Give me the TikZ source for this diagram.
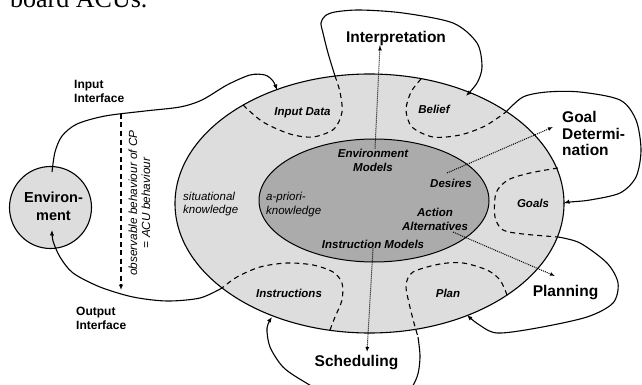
\documentclass[tikz,border=0pt]{standalone}
\usepackage{fontspec}
\setmainfont{Liberation Sans}
\newfontfamily\tnr{Liberation Serif}
\usetikzlibrary{shapes.geometric,arrows.meta}
\definecolor{ringgray}{RGB}{221,221,221}
\definecolor{coregray}{RGB}{171,171,171}
\begin{document}
\begin{tikzpicture}[x=1pt,y=-1pt,
  big/.style={font=\bfseries\fontsize{15.5}{16.5}\selectfont, align=left, inner sep=0pt},
  envtext/.style={font=\bfseries\fontsize{14.5}{18}\selectfont, align=center, inner sep=0pt},
  iface/.style={font=\bfseries\fontsize{12}{14}\selectfont, align=left, inner sep=0pt},
  region/.style={font=\bfseries\itshape\fontsize{11.5}{14}\selectfont, align=center, inner sep=0pt},
  plaintext/.style={font=\itshape\fontsize{11.5}{13.5}\selectfont, align=left, inner sep=0pt},
  loopline/.style={line width=1.1pt},
  bound/.style={line width=1.1pt, dash pattern=on 5pt off 4pt},
  tip/.style={-{Latex[length=5.5pt,width=4.5pt]}},
  dotarrow/.style={line width=1pt, dash pattern=on 1pt off 1pt, -{Latex[length=5pt,width=4pt]}}
]
\useasboundingbox (0,0) rectangle (642,385);

% caption fragment
\node[anchor=base west, inner sep=0pt, font=\tnr\fontsize{26}{26}\selectfont] (cap) at (10,8) {board ACUs.};

% shapes
\node[draw, ellipse, line width=1.1pt, fill=ringgray, minimum width=389pt, minimum height=259pt, inner sep=0pt] (outer) at (369.5,203.5) {};
\node[draw, ellipse, line width=1pt, fill=coregray, minimum width=230pt, minimum height=123pt, inner sep=0pt] (inner) at (374,200.5) {};
\node[draw, circle, line width=1.1pt, fill=ringgray, minimum size=82pt, inner sep=0pt] (env) at (50.5,207.5) {};

% region boundaries (dashed)
\draw[bound] plot[smooth] coordinates {(243,105) (263,122) (290,134) (313,137) (334,129) (342,112) (340,92) (335,76)};
\draw[bound] plot[smooth] coordinates {(421,79) (411,92) (406,110) (412,127) (433,137) (460,135) (485,126) (506,112)};
\draw[bound] plot[smooth] coordinates {(558,168) (530,173) (508,180) (496,193) (495,217) (503,230) (523,234) (558,237)};
\draw[bound] plot[smooth] coordinates {(507,295) (500,280) (487,270) (463,263) (440,264) (413,272) (406,285) (409,303) (414,323) (418,337)};
\draw[bound] plot[smooth] coordinates {(330,330) (335,317) (342,300) (342,283) (333,272) (313,265) (287,263) (260,267) (237,277) (222,288)};

% named end points
\coordinate (inStart) at (52,172);
\coordinate (inEnd) at (277,90);
\coordinate (outStart) at (222,288);
\coordinate (outEnd) at (52,230);
\coordinate (obsTop) at (121,114);
\coordinate (obsBot) at (121,290);

% interface curves
\draw[loopline, tip] plot[smooth] coordinates {(inStart) (55,152) (62,136) (77,124) (105,116) (145,111) (180,107) (202,100) (227,85) (250,75) (265,75) (273,81) (inEnd)};
\draw[loopline, tip] plot[smooth] coordinates {(outStart) (200,298) (167,301) (133,297) (100,287) (73,273) (60,257) (53,241) (outEnd)};
\draw[line width=1.1pt, dash pattern=on 5pt off 3.5pt, tip] (obsTop) -- (obsBot);

% loops
\draw[loopline, tip] plot[smooth] coordinates {(335,76) (328,53) (323,33) (321,23) (325,16) (335,12) (360,10) (403,13) (453,23) (477,43) (482,67) (477,83) (466,96)};
\draw[loopline, tip] plot[smooth] coordinates {(506,112) (523,97) (547,92) (580,92) (620,100) (636,120) (641,150) (636,177) (620,193) (590,200) (570,202) (564,203)};
\draw[loopline, tip] plot[smooth] coordinates {(558,237) (580,243) (607,263) (618,283) (613,303) (587,317) (537,328) (497,333) (478,324) (467,315)};
\draw[loopline, tip] plot[smooth] coordinates {(418,337) (420,357) (417,377) (406,392) (370,402) (330,395) (303,381) (283,367) (270,347) (267,328) (272,317)};

% texts
\node[envtext] (envlabel) at (53.5,206) {Environ-\\ment};
\node[iface, anchor=west] (inIf) at (74,91) {Input\\Interface};
\node[iface, anchor=west] (outIf) at (76,318) {Output\\Interface};
\node[plaintext, rotate=90, align=center, font=\itshape\fontsize{11.8}{13}\selectfont] (obs) at (139.5,203) {observable behaviour of CP\\= ACU behaviour};

\node[big] (interp) at (396,38) {Interpretation};
\node[big, anchor=west] (goaldet) at (562,133.5) {Goal\\Determi-\\nation};
\node[big] (planning) at (565.5,293) {Planning};
\node[big] (sched) at (356.5,363) {Scheduling};

\node[region] (indata) at (302.5,113) {Input Data};
\node[region] (belief) at (434,109) {Belief};
\node[region] (goals) at (533,203) {Goals};
\node[region] (instr) at (289,293) {Instructions};
\node[region] (plan) at (448,293) {Plan};
\node[plaintext, anchor=west] (sit) at (183,204) {situational\\knowledge};
\node[plaintext, anchor=west] (apriori) at (266,204.5) {a-priori-\\knowledge};
\node[region] (envmod) at (373,160) {Environment\\Models};
\node[region] (desires) at (451,183) {Desires};
\node[region] (actalt) at (435,219) {Action\\Alternatives};
\node[region] (instmod) at (373,244) {Instruction Models};

% dotted arrows
\draw[dotarrow] (envmod.north) ++(2,0) -- (interp.south -| 380,0) ++(0,0);
\draw[dotarrow] (447,173) -- (553,127);
\draw[dotarrow] (453,232) -- (555,276);
\draw[dotarrow] (instmod.south) -- (367,352);
\end{tikzpicture}
\end{document}
